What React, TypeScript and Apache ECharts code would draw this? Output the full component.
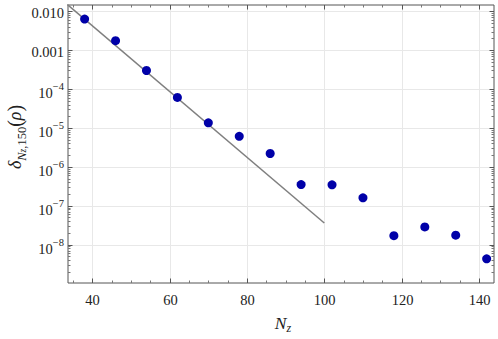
import React, { useEffect, useRef } from 'react';
import * as echarts from 'echarts';

// ---- data ----
const nz = [38, 46, 54, 62, 70, 78, 86, 94, 102, 110, 118, 126, 134, 142];
const delta = [6.3e-3, 1.75e-3, 3.0e-4, 6.1e-5, 1.35e-5, 6.1e-6, 2.2e-6, 3.5e-7, 3.45e-7, 1.6e-7, 1.7e-8, 2.85e-8, 1.75e-8, 4.3e-9];
const fitX = [30, 100];
const fitY = [2.97e-2, 3.6e-8];
const xMajor = [40, 60, 80, 100, 120, 140];
const xMinor = [35, 45, 50, 55, 65, 70, 75, 85, 90, 95, 105, 110, 115, 125, 130, 135];
const yMajorExp = [-2, -3, -4, -5, -6, -7, -8];
const yLabelBase = ['0.010', '0.001', '10', '10', '10', '10', '10'];
const yLabelExp = ['', '', '−4', '−5', '−6', '−7', '−8'];
const yMinorMant = [2, 3, 4, 5, 6, 7, 8, 9];
const yMinorExp = [-10, -9, -8, -7, -6, -5, -4, -3, -2];
const xRange = [33.7, 143.9];
const yRange = [1.03e-9, 0.0145];

const FONT = '"Liberation Serif", "Times New Roman", serif';
const FRAME = '#555555';
const GRID = '#e8e8e8';

export default function App() {
  const ref = useRef<HTMLDivElement>(null);
  useEffect(() => {
    if (!ref.current) return;
    const chart = echarts.init(ref.current, undefined, { renderer: 'svg' });

    const renderFrame = (params: any, api: any) => {
      const children: any[] = [];
      const [xl, yb] = api.coord([xRange[0], yRange[0]]);
      const [xr, yt] = api.coord([xRange[1], yRange[1]]);
      const MAJ = 4.5;
      const MIN = 2.5;
      // x grid, ticks, labels
      for (const v of xMajor) {
        const px = Math.round(api.coord([v, yRange[0]])[0]) + 0.5;
        children.push({ type: 'line', shape: { x1: px, y1: yb, x2: px, y2: yt }, style: { stroke: GRID, lineWidth: 1 } });
        children.push({ type: 'line', shape: { x1: px, y1: yb, x2: px, y2: yb - MAJ }, style: { stroke: FRAME, lineWidth: 1 } });
        children.push({ type: 'line', shape: { x1: px, y1: yt, x2: px, y2: yt + MAJ }, style: { stroke: FRAME, lineWidth: 1 } });
        children.push({
          type: 'text',
          x: px,
          y: yb + 17,
          style: { text: String(v), fontFamily: FONT, fontSize: 14.5, fill: '#222', align: 'center', verticalAlign: 'middle' },
        });
      }
      for (const v of xMinor) {
        const px = Math.round(api.coord([v, yRange[0]])[0]) + 0.5;
        children.push({ type: 'line', shape: { x1: px, y1: yb, x2: px, y2: yb - MIN }, style: { stroke: '#777', lineWidth: 1 } });
        children.push({ type: 'line', shape: { x1: px, y1: yt, x2: px, y2: yt + MIN }, style: { stroke: '#777', lineWidth: 1 } });
      }
      // y grid, ticks, labels
      yMajorExp.forEach((e, i) => {
        const py = Math.round(api.coord([xRange[0], Math.pow(10, e)])[1]) + 0.5;
        children.push({ type: 'line', shape: { x1: xl, y1: py, x2: xr, y2: py }, style: { stroke: GRID, lineWidth: 1 } });
        children.push({ type: 'line', shape: { x1: xl, y1: py, x2: xl + MAJ, y2: py }, style: { stroke: FRAME, lineWidth: 1 } });
        children.push({ type: 'line', shape: { x1: xr, y1: py, x2: xr - MAJ, y2: py }, style: { stroke: FRAME, lineWidth: 1 } });
        const hasExp = yLabelExp[i] !== '';
        children.push({
          type: 'text',
          x: xl - 4,
          y: py + 1,
          style: {
            text: hasExp ? `{b|${yLabelBase[i]}}{e|${yLabelExp[i]}}` : `{b|${yLabelBase[i]}}`,
            fontFamily: FONT,
            fontSize: 14.5,
            fill: '#222',
            align: 'right',
            verticalAlign: 'middle',
            rich: {
              b: { fontFamily: FONT, fontSize: 14.5, fill: '#222', lineHeight: hasExp ? 20 : 16, verticalAlign: 'bottom' },
              e: { fontFamily: FONT, fontSize: 10.5, fill: '#222', lineHeight: 11, verticalAlign: 'top' },
            },
          },
        });
      });
      for (const e of yMinorExp) {
        for (const m of yMinorMant) {
          const v = m * Math.pow(10, e);
          if (v <= yRange[0] || v >= yRange[1]) continue;
          const py = Math.round(api.coord([xRange[0], v])[1]) + 0.5;
          children.push({ type: 'line', shape: { x1: xl, y1: py, x2: xl + MIN, y2: py }, style: { stroke: '#777', lineWidth: 1 } });
          children.push({ type: 'line', shape: { x1: xr, y1: py, x2: xr - MIN, y2: py }, style: { stroke: '#777', lineWidth: 1 } });
        }
      }
      return { type: 'group', children };
    };

    chart.setOption({
      animation: false,
      grid: {
        left: 68,
        top: 5,
        width: 426,
        height: 278,
        show: true,
        borderColor: FRAME,
        borderWidth: 1,
        backgroundColor: 'transparent',
      },
      xAxis: {
        type: 'value',
        min: xRange[0],
        max: xRange[1],
        axisLine: { show: false },
        axisTick: { show: false },
        axisLabel: { show: false },
        splitLine: { show: false },
      },
      yAxis: {
        type: 'log',
        logBase: 10,
        min: yRange[0],
        max: yRange[1],
        axisLine: { show: false },
        axisTick: { show: false },
        axisLabel: { show: false },
        splitLine: { show: false },
        minorTick: { show: false },
      },
      graphic: [
        {
          type: 'text',
          x: 15,
          y: 137,
          rotation: Math.PI / 2,
          style: {
            text: '{d|δ}{n|N}{z|z}{s|,150}{p|(}{r|ρ}{p|)}',
            align: 'center',
            verticalAlign: 'middle',
            fill: '#222',
            fontFamily: FONT,
            fontSize: 18,
            rich: {
              d: { fontFamily: FONT, fontSize: 18, fontStyle: 'italic', fill: '#222', lineHeight: 26 },
              n: { fontFamily: FONT, fontSize: 12.5, fontStyle: 'italic', fill: '#222', lineHeight: 17, verticalAlign: 'bottom' },
              z: { fontFamily: FONT, fontSize: 9.5, fontStyle: 'italic', fill: '#222', lineHeight: 9, verticalAlign: 'bottom' },
              s: { fontFamily: FONT, fontSize: 12.5, fill: '#222', lineHeight: 17, verticalAlign: 'bottom' },
              p: { fontFamily: FONT, fontSize: 20, fill: '#222', lineHeight: 26 },
              r: { fontFamily: FONT, fontSize: 18, fontStyle: 'italic', fill: '#222', lineHeight: 26 },
            },
          },
        },
        {
          type: 'text',
          x: 283,
          y: 323,
          style: {
            text: '{n|N}{z|z}',
            align: 'center',
            verticalAlign: 'middle',
            fill: '#222',
            fontFamily: FONT,
            fontSize: 17,
            rich: {
              n: { fontFamily: FONT, fontSize: 17.5, fontStyle: 'italic', fill: '#222', lineHeight: 22 },
              z: { fontFamily: FONT, fontSize: 12, fontStyle: 'italic', fill: '#222', lineHeight: 13, verticalAlign: 'bottom' },
            },
          },
        },
      ],
      series: [
        {
          type: 'custom',
          z: 1,
          clip: false,
          silent: true,
          data: [[80, 1e-5]],
          renderItem: renderFrame,
        },
        {
          type: 'line',
          z: 2,
          clip: true,
          symbol: 'none',
          data: fitX.map((x, i) => [x, fitY[i]]),
          lineStyle: { color: '#7f7f7f', width: 1.5 },
        },
        {
          type: 'scatter',
          z: 3,
          symbol: 'circle',
          symbolSize: 9,
          data: nz.map((x, i) => [x, delta[i]]),
          itemStyle: { color: '#0000a8', opacity: 1 },
        },
      ],
    });
    return () => chart.dispose();
  }, []);
  return <div ref={ref} style={{ width: 498, height: 339, position: 'absolute', left: 0, top: 0 }} />;
}
